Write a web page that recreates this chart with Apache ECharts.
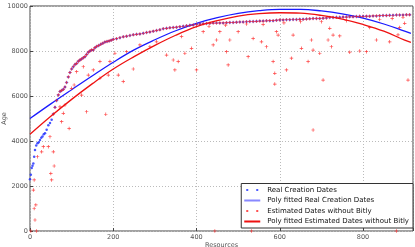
<!DOCTYPE html>
<html>
<head>
<meta charset="utf-8">
<script src="https://cdn.jsdelivr.net/npm/echarts@6/dist/echarts.min.js"></script>
<style>html,body{margin:0;padding:0;background:#fff}#c{width:415px;height:247px}</style>
</head>
<body>
<div id="c"></div>
<script>
// ---- data ----
const seriesNames = ['Real Creation Dates', 'Poly fitted Real Creation Dates', 'Estimated Dates without Bitly', 'Poly fitted Estimated Dates without Bitly'];
const xTicks = [0, 200, 400, 600, 800];
const yTicks = [0, 2000, 4000, 6000, 8000, 10000];

// Real creation dates (sorted curve)
const realX = [0,2,4,6,8,10,12,15,18,21,24,27,30,33,36,40,44,48,52,56,60,64,68,72,76,80,84,88,92,96,100,104,108,112,116,120,124,128,132,136,140,144,148,152,156,160,165,170,175,180,185,190,195,
  200,208,216,224,232,240,248,256,264,272,280,288,296,304,312,320,328,336,344,352,360,368,376,384,392,400,408,416,424,432,440,448,456,464,472,480,488,496,504,512,520,528,536,544,552,560,568,576,584,592,600,608,616,624,632,640,648,656,664,672,680,688,696,704,712,720,728,736,744,752,760,768,776,784,792,800,808,816,824,832,840,848,856,864,872,880,888,896,904,912];
const realY = [2300,2500,2800,2900,3000,3300,3600,3800,3900,3950,4050,4150,4200,4300,4350,4500,4700,4800,4950,5200,5500,5800,6050,6200,6250,6300,6400,6600,6850,7050,7200,7300,7400,7450,7550,7600,7650,7700,7750,7850,7950,8000,8050,8050,8150,8200,8250,8300,8350,8400,8420,8450,8480,
  8520,8550,8590,8630,8660,8690,8720,8740,8760,8790,8820,8850,8880,8910,8940,8990,9010,9030,9050,9060,9080,9100,9120,9140,9160,9190,9200,9210,9220,9230,9240,9240,9250,9250,9260,9270,9270,9280,9290,9290,9300,9310,9310,9320,9330,9330,9340,9350,9350,9370,9380,9380,9390,9390,9400,9400,9410,9410,9420,9430,9440,9440,9450,9460,9470,9490,9490,9500,9500,9510,9510,9520,9520,9530,9540,9540,9550,9550,9560,9560,9570,9580,9580,9590,9590,9600,9600,9600,9610,9610,9620];

// Estimated dates: points off the main curve
const estOutX = [2,16,8,10,14,10,12,18,28,32,44,48,50,52,56,58,72,76,80,84,94,100,106,112,124,128,136,140,152,168,168,182,188,192,204,212,224,232,248,264,288,304,328,344,348,356,364,372,388,400,416,440,444,448,456,472,476,480,500,524,532,536,556,568,584,588,588,592,596,616,628,632,652,668,676,680,680,696,704,716,720,724,728,744,768,792,808,816,832,864,880,884,888,900,908,
  430,470,520,560,610,650,700,760,840,870,896];
const estOutY = [0,0,1820,2270,1160,1000,490,3300,3520,3750,3750,4190,2560,2270,3520,2890,5520,4860,5230,5600,4560,6340,6490,7080,6040,7300,5300,6930,7160,6790,7530,5190,6930,7530,7900,6930,6640,7970,7200,8270,8190,8410,7820,7600,7160,7530,8640,7900,8120,7160,8860,8270,0,8490,8860,7970,7380,8490,8860,7750,0,8560,8410,8190,7530,7010,6530,8860,8710,7160,7680,8710,8120,7530,8490,8040,4490,7900,6710,8490,9010,8190,8710,8670,7950,8000,7970,9050,8490,8410,0,8720,9050,9230,6710,
  9100,9150,9200,9180,9250,9300,9300,9350,9400,9450,9500];
// x from which the estimated series follows the real curve
const estCurveStart = 56;

// Polynomial fits (read at 50-step)
const fitX = [0,50,100,150,200,250,300,350,400,450,500,550,600,650,700,750,800,850,900,915];
const fitRealY = [5000,5650,6280,6900,7500,8050,8500,8900,9230,9480,9670,9790,9850,9850,9780,9650,9460,9200,8880,8780];
const fitEstY = [4300,5100,5850,6550,7200,7750,8250,8700,9080,9350,9550,9660,9700,9680,9580,9420,9180,8880,8480,8380];

// ---- build ----
const realData = realX.map((x, i) => [x, realY[i]]);
const estData = realData.filter(p => p[0] >= estCurveStart).concat(estOutX.map((x, i) => [x, estOutY[i]]));
const fitRealData = fitX.map((x, i) => [x, fitRealY[i]]);
const fitEstData = fitX.map((x, i) => [x, fitEstY[i]]);

const FONT = 'DejaVu Sans';
const plus = 'path://M2,0H3V2H5V3H3V5H2V3H0V2H2Z';
const dotsIcon = 'path://M0,0h0.05v0.05h-0.05zM16,6h-0.05v-0.05h0.05zM2,2h2v2h-2zM12,2h2v2h-2z';
const lineIcon = 'path://M0,0h0.05v0.05h-0.05zM16,6h-0.05v-0.05h0.05zM0,2h16v2h-16z';

const chart = echarts.init(document.getElementById('c'), null, {renderer: 'canvas'});
chart.setOption({
  animation: false,
  backgroundColor: '#fff',
  grid: {left: 30, right: 2, top: 6, bottom: 16, show: true, borderColor: '#444', borderWidth: 1,
    containLabel: false, outerBoundsMode: 'none'},
  xAxis: {
    type: 'value', min: 0, max: 920, interval: 200,
    name: 'Resources', nameLocation: 'middle', nameGap: 11, nameMoveOverlap: false,
    nameTextStyle: {fontFamily: FONT, fontSize: 6.5, color: '#555'},
    axisLine: {show: false},
    axisTick: {show: true, inside: true, length: 3, lineStyle: {color: '#444'}},
    axisLabel: {fontFamily: FONT, fontSize: 6.5, color: '#555', margin: 3,
      formatter: v => xTicks.includes(v) ? String(v) : ''},
    splitLine: {show: true, lineStyle: {color: '#bbb', type: [1, 2], width: 1}}
  },
  yAxis: {
    type: 'value', min: 0, max: 10000, interval: 2000,
    name: 'Age', nameLocation: 'middle', nameGap: 22, nameRotate: 90, nameMoveOverlap: false,
    nameTextStyle: {fontFamily: FONT, fontSize: 6.5, color: '#555'},
    axisLine: {show: false},
    axisTick: {show: true, inside: true, length: 3, lineStyle: {color: '#444'}},
    axisLabel: {fontFamily: FONT, fontSize: 6.5, color: '#555', margin: 2,
      formatter: v => yTicks.includes(v) ? String(v) : ''},
    splitLine: {show: true, lineStyle: {color: '#bbb', type: [1, 2], width: 1}}
  },
  legend: {
    orient: 'vertical', right: 2, bottom: 19,
    backgroundColor: '#fff', borderColor: '#333', borderWidth: 1, borderRadius: 0,
    padding: [3, 4, 3, 3], itemGap: 3.5, itemWidth: 16, itemHeight: 6,
    textStyle: {fontFamily: FONT, fontSize: 7, color: '#111', padding: [0, 0, 0, 2]},
    data: [
      {name: seriesNames[0], icon: dotsIcon, itemStyle: {color: '#2233ff'}},
      {name: seriesNames[1], icon: lineIcon, itemStyle: {color: '#8888ff'}},
      {name: seriesNames[2], icon: dotsIcon, itemStyle: {color: '#ff3333'}},
      {name: seriesNames[3], icon: lineIcon, itemStyle: {color: '#ee1111'}}
    ]
  },
  series: [
    {name: seriesNames[0], type: 'scatter', data: realData, symbol: 'circle', symbolSize: 2.5,
      itemStyle: {color: '#1a2bff'}, z: 2},
    {name: seriesNames[1], type: 'line', data: fitRealData, smooth: 0.4, showSymbol: false, symbol: 'none',
      lineStyle: {color: '#1a1aff', width: 1.3}, z: 3},
    {name: seriesNames[2], type: 'scatter', data: estData, symbol: plus, symbolSize: 3.5,
      itemStyle: {color: '#ff2020', opacity: 0.85}, z: 4},
    {name: seriesNames[3], type: 'line', data: fitEstData, smooth: 0.4, showSymbol: false, symbol: 'none',
      lineStyle: {color: '#ee1111', width: 1.3}, z: 5}
  ]
});
</script>
</body>
</html>
